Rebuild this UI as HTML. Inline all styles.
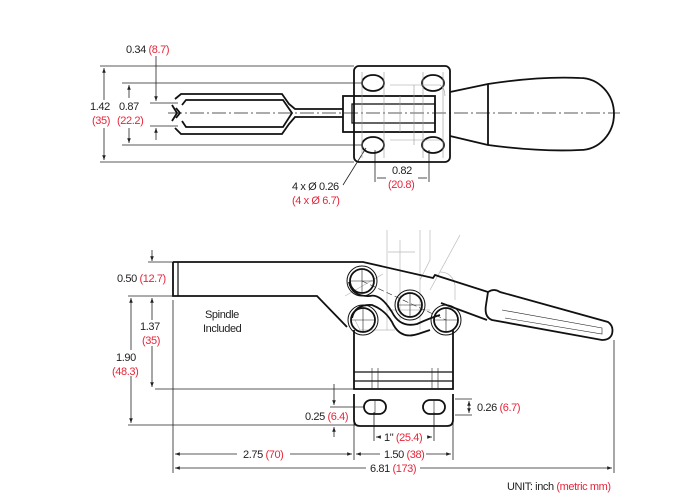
<!DOCTYPE html>
<html><head><meta charset="utf-8"><style>
html,body{margin:0;padding:0;background:#fff;}
svg{display:block;}
text{font-family:"Liberation Sans Narrow","Liberation Sans",sans-serif;font-size:11px;fill:#222;letter-spacing:-0.4px;}
.r{fill:#e8253a;}
</style></head><body>
<svg width="700" height="500" viewBox="0 0 700 500" xmlns="http://www.w3.org/2000/svg">
<defs>
<marker id="a" viewBox="0 0 8 8" refX="8" refY="4" markerWidth="6" markerHeight="6" orient="auto-start-reverse"><path d="M0,1 L8,4 L0,7 z" fill="#222"/></marker>
</defs>
<g stroke="#222" fill="none" stroke-width="0.8">
<line x1="100" y1="66" x2="354" y2="66"/>
<line x1="100" y1="162" x2="354" y2="162"/>
<line x1="122" y1="83" x2="362" y2="83"/>
<line x1="122" y1="145" x2="362" y2="145"/>
<line x1="150" y1="103" x2="178" y2="103"/>
<line x1="150" y1="126" x2="178" y2="126"/>
<line x1="104" y1="68" x2="104" y2="100" marker-start="url(#a)"/>
<line x1="104" y1="128" x2="104" y2="160" marker-end="url(#a)"/>
<line x1="129" y1="85" x2="129" y2="98" marker-start="url(#a)"/>
<line x1="129" y1="128" x2="129" y2="143" marker-end="url(#a)"/>
<line x1="156" y1="56" x2="156" y2="101" marker-end="url(#a)"/>
<line x1="156" y1="140" x2="156" y2="128" marker-end="url(#a)"/>
<line x1="168" y1="113" x2="620" y2="113" stroke-dasharray="14,3,2,3"/>
<line x1="375" y1="150" x2="375" y2="182"/>
<line x1="429" y1="150" x2="429" y2="182"/>
<line x1="377" y1="178" x2="386" y2="178"/>
<line x1="418" y1="178" x2="427" y2="178"/>
<line x1="343" y1="185" x2="366" y2="148"/>
</g>
<g stroke="#111" fill="none" stroke-width="1.8">
<rect x="354" y="66" width="96" height="96" rx="5"/>
<ellipse cx="373" cy="83" rx="11" ry="8"/>
<ellipse cx="433" cy="83" rx="11" ry="8"/>
<ellipse cx="373" cy="145" rx="11" ry="8"/>
<ellipse cx="433" cy="145" rx="11" ry="8"/>
<path d="M175,99 L181,94 L282,94 L289,104 L295,109 L343,109"/>
<path d="M175,128 L181,134 L282,134 L289,124 L295,117 L343,117"/>
<path d="M172,105 L177,113 L172,121"/>
<path d="M182,105 L186,100 L283,100 L292,113 L283,127 L186,127 L182,121"/>
<path d="M176,108 L180,113 L176,118"/>
<rect x="343" y="96" width="92" height="36"/>
<rect x="352" y="104" width="83" height="19" stroke-width="1.3"/>
<path d="M450,92 L488,84 Q540,76 580,78 A34,36 0 0 1 580,150 Q540,152 488,145 L450,136"/>
<line x1="488" y1="84" x2="488" y2="145"/>
</g>
<g stroke="#999" fill="none" stroke-width="0.6">
<path d="M400,96 L400,132 M414,85 L414,145 M390,85 L440,85 Q445,88 445,96 M390,140 L440,140 M362,72 L362,158 M384,72 L384,158 M423,72 L423,158 M443,72 L443,158"/>
</g>
<text x="126" y="53">0.34 <tspan class="r">(8.7)</tspan></text>
<text x="90" y="110">1.42</text><text x="92" y="124" class="r">(35)</text>
<text x="119" y="110">0.87</text><text x="117" y="124" class="r">(22.2)</text>
<text x="392" y="174">0.82</text><text x="388" y="188" class="r">(20.8)</text>
<text x="292" y="190">4 x Ø 0.26</text><text x="292" y="204" class="r">(4 x Ø 6.7)</text>

<g stroke="#bbb" fill="none" stroke-width="0.7">
<path d="M387,230 L387,330 M400,240 L400,320 M420,230 L420,330 M430,230 L430,260 L420,280 M460,235 L430,290 M388,252 L415,252 M388,310 L430,310 M395,330 L360,330 L355,320"/>
<path d="M345,296 L383,274 M440,272 Q452,272 455,285 L455,300"/>
</g>
<g stroke="#222" fill="none" stroke-width="0.8">
<line x1="148" y1="262" x2="173" y2="262"/>
<line x1="128" y1="296" x2="173" y2="296"/>
<line x1="152" y1="250" x2="152" y2="261" marker-end="url(#a)"/>
<line x1="152" y1="298" x2="152" y2="320" marker-start="url(#a)"/>
<line x1="152" y1="346" x2="152" y2="387" marker-end="url(#a)"/>
<line x1="155" y1="389" x2="354" y2="389"/>
<line x1="131" y1="298" x2="131" y2="350" marker-start="url(#a)"/>
<line x1="131" y1="376" x2="131" y2="423" marker-end="url(#a)"/>
<line x1="128" y1="425" x2="356" y2="425"/>
<line x1="334" y1="384" x2="334" y2="405" marker-end="url(#a)"/>
<line x1="334" y1="437" x2="334" y2="427" marker-end="url(#a)"/>
<line x1="330" y1="407" x2="364" y2="407"/>
<line x1="455" y1="399" x2="472" y2="399"/>
<line x1="455" y1="415" x2="472" y2="415"/>
<line x1="469" y1="401" x2="469" y2="413" marker-start="url(#a)" marker-end="url(#a)"/>
<line x1="374" y1="412" x2="374" y2="441"/>
<line x1="434" y1="412" x2="434" y2="441"/>
<line x1="376" y1="437" x2="381" y2="437" marker-start="url(#a)"/>
<line x1="428" y1="437" x2="432" y2="437" marker-end="url(#a)"/>
<line x1="173" y1="300" x2="173" y2="473"/>
<line x1="354" y1="394" x2="354" y2="460"/>
<line x1="453" y1="418" x2="453" y2="460"/>
<line x1="614" y1="340" x2="614" y2="473"/>
<line x1="175" y1="454" x2="237" y2="454" marker-start="url(#a)"/>
<line x1="290" y1="454" x2="352" y2="454" marker-start="url(#a)" marker-end="url(#a)" style="marker-start:none"/>
<line x1="356" y1="454" x2="380" y2="454" marker-start="url(#a)"/>
<line x1="426" y1="454" x2="451" y2="454" marker-end="url(#a)"/>
<line x1="175" y1="468" x2="366" y2="468" marker-start="url(#a)"/>
<line x1="420" y1="468" x2="612" y2="468" marker-end="url(#a)"/>
</g>
<g stroke="#111" fill="none" stroke-width="1.8">
<path d="M173,262 L363,262 L433,278 L435,275 L441,277 L488,292"/>
<path d="M173,262 L173,296 L317,296 L347,327"/>
<line x1="178" y1="262" x2="178" y2="296" stroke-width="1.2"/>
<path d="M441,303 L487,320"/>
<path d="M488,292 Q494,288 500,292 L608,322 Q614,326 612,334 Q610,340 602,340 L492,320 Q484,317 486,305 Z"/>
<path d="M349,282 Q352,297 370,296 Q380,293 392,312 Q400,328 417,324 Q430,318 440,315"/>
<path d="M352,318 Q355,304 372,305 Q385,310 392,322 Q400,340 418,334 L430,330"/>
<circle cx="362" cy="281" r="12"/><circle cx="362" cy="281" r="15" stroke-width="1"/>
<circle cx="363" cy="320" r="12"/><circle cx="363" cy="320" r="15" stroke-width="1"/>
<circle cx="410" cy="305" r="12"/><circle cx="410" cy="305" r="15" stroke-width="1"/>
<circle cx="446" cy="320" r="12"/><circle cx="446" cy="320" r="15" stroke-width="1"/>
<path d="M354,330 L354,389 L453,389 L453,330"/>
<line x1="354" y1="372" x2="453" y2="372" stroke-width="1.3"/>
<line x1="354" y1="381" x2="453" y2="381" stroke-width="1.2"/>
<path d="M354,394 L354,420 Q354,426 360,426 L447,426 Q453,426 453,420 L453,394"/>
<rect x="364" y="400" width="22" height="14" rx="7"/>
<rect x="423" y="400" width="22" height="14" rx="7"/>
</g>
<g stroke="#222" stroke-width="0.6" fill="none">
<path d="M362,269 L362,293 M350,281 L374,281 M363,308 L363,332 M351,320 L375,320 M410,293 L410,317 M398,305 L422,305 M446,308 L446,332 M434,320 L458,320"/>
<path d="M362,281 L446,320" stroke-dasharray="6,3"/>
<path d="M372,368 L372,389 M378,368 L378,389 M432,368 L432,389 M438,368 L438,389 M375,400 L375,414 M434,400 L434,414"/>
<path d="M502,310 L602,328 L602,334 L505,318"/>
</g>
<text x="117" y="282">0.50 <tspan class="r">(12.7)</tspan></text>
<text x="140" y="330">1.37</text><text x="142" y="344" class="r">(35)</text>
<text x="116" y="361">1.90</text><text x="112" y="375" class="r">(48.3)</text>
<text x="205" y="318">Spindle</text><text x="203" y="332">Included</text>
<text x="305" y="420">0.25 <tspan class="r">(6.4)</tspan></text>
<text x="477" y="411">0.26 <tspan class="r">(6.7)</tspan></text>
<text x="384" y="441">1" <tspan class="r">(25.4)</tspan></text>
<text x="384" y="458">1.50 <tspan class="r">(38)</tspan></text>
<text x="243" y="458">2.75 <tspan class="r">(70)</tspan></text>
<text x="370" y="472">6.81 <tspan class="r">(173)</tspan></text>
<text x="507" y="490">UNIT: inch <tspan class="r">(metric mm)</tspan></text>
</svg>
</body></html>
